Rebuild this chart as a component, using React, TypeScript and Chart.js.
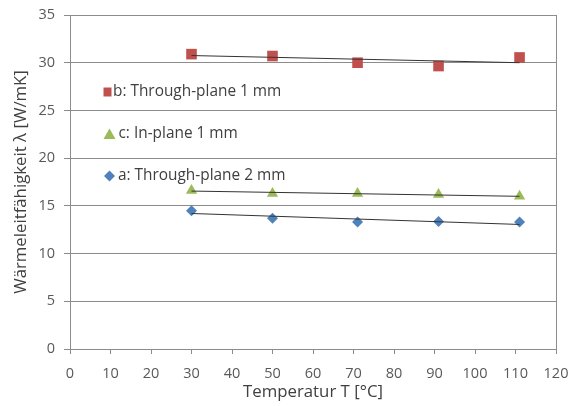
import React, { useEffect, useRef } from "react";
import { Chart, registerables } from "chart.js";

Chart.register(...registerables);

// Measurement temperatures [°C]
const temperatures = [30, 50, 71, 91, 111];

// Thermal conductivity [W/mK]
const throughPlane1mm = [30.9, 30.7, 30.0, 29.65, 30.55];
const inPlane1mm = [16.6, 16.3, 16.3, 16.2, 16.0];
const throughPlane2mm = [14.5, 13.7, 13.3, 13.35, 13.3];

// Linear trend lines (start / end values at first and last temperature)
const trendX = [30, 111];
const trendThroughPlane1mm = [30.75, 30.0];
const trendInPlane1mm = [16.55, 16.0];
const trendThroughPlane2mm = [14.2, 13.05];

const xTicks = [0, 10, 20, 30, 40, 50, 60, 70, 80, 90, 100, 110, 120];
const yTicks = [0, 5, 10, 15, 20, 25, 30, 35];

const seriesLabels = ["b: Through-plane 1 mm", "c: In-plane 1 mm", "a: Through-plane 2 mm"];
const seriesColors = ["#C0504D", "#9BBB59", "#4F81BD"];

const FONT = "'Open Sans', sans-serif";
const TEXT = "#404040";
const GRID = "#8c8c8c";

function pts(xs: number[], ys: number[]) {
  return xs.map((x, i) => ({ x, y: ys[i] }));
}

// Legend entries sit inside the plot area, left side
const legendPlugin = {
  id: "insideLegend",
  afterDraw(chart: any) {
    const { ctx, chartArea } = chart;
    const entries = [
      { style: "square", mx: 37.5, tx: 43, dy: 77 },
      { style: "triangle", mx: 39.5, tx: 48.5, dy: 119 },
      { style: "diamond", mx: 39.5, tx: 48, dy: 161 },
    ];
    ctx.save();
    ctx.font = `15.4px ${FONT}`;
    ctx.textBaseline = "middle";
    entries.forEach((e, i) => {
      const cy = chartArea.top + e.dy;
      const mx = chartArea.left + e.mx;
      ctx.fillStyle = seriesColors[i];
      ctx.beginPath();
      if (e.style === "square") {
        ctx.rect(mx - 4, cy - 4.5, 8, 9);
      } else if (e.style === "triangle") {
        ctx.moveTo(mx, cy - 5.5);
        ctx.lineTo(mx + 6, cy + 5);
        ctx.lineTo(mx - 6, cy + 5);
        ctx.closePath();
      } else {
        ctx.moveTo(mx, cy - 5.5);
        ctx.lineTo(mx + 5.5, cy);
        ctx.lineTo(mx, cy + 5.5);
        ctx.lineTo(mx - 5.5, cy);
        ctx.closePath();
      }
      ctx.fill();
      ctx.fillStyle = TEXT;
      ctx.fillText(seriesLabels[i], chartArea.left + e.tx, cy);
    });
    // right frame line of the plot area
    ctx.strokeStyle = GRID;
    ctx.lineWidth = 1;
    ctx.beginPath();
    ctx.moveTo(Math.round(chartArea.right) + 0.5, chartArea.top);
    ctx.lineTo(Math.round(chartArea.right) + 0.5, chartArea.bottom);
    ctx.stroke();
    ctx.restore();
  },
};

const whiteBg = {
  id: "whiteBg",
  beforeDraw(chart: any) {
    const { ctx, width, height } = chart;
    ctx.save();
    ctx.fillStyle = "#ffffff";
    ctx.fillRect(0, 0, width, height);
    ctx.restore();
  },
};

export default function App() {
  const canvasRef = useRef<HTMLCanvasElement | null>(null);

  useEffect(() => {
    if (!canvasRef.current) return;
    const trendStyle = {
      showLine: true,
      borderColor: "#333333",
      borderWidth: 1,
      pointRadius: 0,
      fill: false,
    };
    const chart = new Chart(canvasRef.current, {
      type: "scatter",
      data: {
        datasets: [
          { ...trendStyle, label: "trend b", data: pts(trendX, trendThroughPlane1mm) },
          { ...trendStyle, label: "trend c", data: pts(trendX, trendInPlane1mm) },
          { ...trendStyle, label: "trend a", data: pts(trendX, trendThroughPlane2mm) },
          {
            label: seriesLabels[0],
            data: pts(temperatures, throughPlane1mm),
            pointStyle: "rect",
            pointRadius: 7.5,
            backgroundColor: seriesColors[0],
            borderWidth: 0,
          },
          {
            label: seriesLabels[1],
            data: pts(temperatures, inPlane1mm),
            pointStyle: "triangle",
            pointRadius: 6.5,
            backgroundColor: seriesColors[1],
            borderWidth: 0,
          },
          {
            label: seriesLabels[2],
            data: pts(temperatures, throughPlane2mm),
            pointStyle: "rectRot",
            pointRadius: 5.5,
            backgroundColor: seriesColors[2],
            borderWidth: 0,
          },
        ],
      },
      options: {
        responsive: false,
        animation: false,
        layout: { padding: { top: 15, right: 19, left: 0, bottom: 0 } },
        plugins: {
          legend: { display: false },
          tooltip: { enabled: false },
        },
        scales: {
          x: {
            type: "linear",
            min: 0,
            max: 120,
            afterBuildTicks: (s: any) => {
              s.ticks = xTicks.map((v) => ({ value: v }));
            },
            afterFit: (s: any) => {
              s.height = 57;
              s.paddingLeft = 0;
              s.paddingRight = 0;
            },
            ticks: {
              color: "#595959",
              font: { family: FONT, size: 14.5 },
              padding: 11,
              maxRotation: 0,
            },
            grid: {
              drawOnChartArea: false,
              drawTicks: true,
              tickLength: 5,
              color: GRID,
            },
            border: { display: true, color: GRID, width: 1 },
            title: {
              display: true,
              text: "Temperatur T [°C]",
              color: TEXT,
              font: { family: FONT, size: 16.8 },
              padding: { top: 0, bottom: 4 },
            },
          },
          y: {
            type: "linear",
            min: 0,
            max: 35,
            afterBuildTicks: (s: any) => {
              s.ticks = yTicks.map((v) => ({ value: v }));
            },
            afterFit: (s: any) => {
              s.width = 70;
              s.paddingTop = 0;
              s.paddingBottom = 0;
            },
            ticks: {
              color: "#595959",
              font: { family: FONT, size: 14.5 },
              padding: 9,
            },
            grid: {
              drawTicks: true,
              tickLength: 6,
              color: GRID,
            },
            border: { display: true, color: GRID, width: 1 },
            title: {
              display: true,
              text: "Wärmeleitfähigkeit λ [W/mK]",
              color: TEXT,
              font: { family: FONT, size: 16.8 },
              padding: { top: 11.5, bottom: 0 },
            },
          },
        },
      },
      plugins: [whiteBg, legendPlugin],
    } as any);
    return () => chart.destroy();
  }, []);

  return (
    <div style={{ position: "absolute", left: 0, top: 0, width: 575, height: 406 }}>
      <canvas ref={canvasRef} width={575} height={406} />
    </div>
  );
}
